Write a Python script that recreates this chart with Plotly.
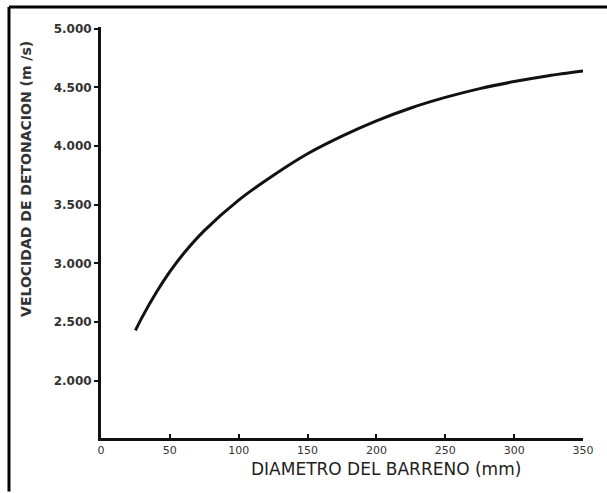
import plotly.graph_objects as go

diametro_mm = [25, 30, 40, 50, 60, 75, 100, 125, 150, 175, 200, 225, 250, 275, 300, 325, 350]
velocidad_ms = [2430, 2545, 2750, 2930, 3085, 3280, 3540, 3750, 3935, 4085, 4215, 4325, 4415, 4490, 4550, 4600, 4640]

x_ticks = [0, 50, 100, 150, 200, 250, 300, 350]
y_ticks = [2000, 2500, 3000, 3500, 4000, 4500, 5000]
y_tick_labels = ["2.000", "2.500", "3.000", "3.500", "4.000", "4.500", "5.000"]

fig = go.Figure()
fig.add_trace(go.Scatter(
    x=diametro_mm, y=velocidad_ms, mode="lines",
    line=dict(color="#111111", width=3, shape="spline", smoothing=0.8),
    showlegend=False, hoverinfo="skip",
))

fig.update_xaxes(
    range=[0, 350], tickvals=x_ticks, ticktext=[str(v) for v in x_ticks],
    showline=True, linecolor="#111111", linewidth=3, showgrid=False, zeroline=False,
    ticks="inside", ticklen=4, tickwidth=2, tickcolor="#111111",
    tickfont=dict(family="DejaVu Sans", size=11, color="#333333"),
)
fig.update_yaxes(
    range=[1513, 5015], tickvals=y_ticks, ticktext=y_tick_labels,
    showline=True, linecolor="#111111", linewidth=3, showgrid=False, zeroline=False,
    ticks="outside", ticklen=4, tickwidth=2, tickcolor="#111111",
    tickfont=dict(family="DejaVu Sans", size=12, color="#333333", weight="bold"),
)

fig.add_annotation(
    text="VELOCIDAD DE DETONACION (m /s)", xref="paper", yref="paper",
    x=-0.156, y=0.63, xanchor="center", yanchor="middle", textangle=-90, showarrow=False,
    font=dict(family="DejaVu Sans", size=14, color="#333333", weight="bold"),
)
fig.add_annotation(
    text="DIAMETRO DEL BARRENO (mm)", xref="paper", yref="paper",
    x=0.592, y=-0.075, xanchor="center", yanchor="middle", showarrow=False,
    font=dict(family="DejaVu Sans", size=17, color="#222222"),
)

# frame lines of the scanned figure (top and left)
fig.add_shape(type="line", xref="paper", yref="paper", x0=-0.1909, x1=1.06, y0=1.0487, y1=1.0487,
              line=dict(color="#000000", width=3))
fig.add_shape(type="line", xref="paper", yref="paper", x0=-0.1909, x1=-0.1909, y0=1.0487, y1=-0.13,
              line=dict(color="#000000", width=3))

fig.update_layout(
    width=607, height=493,
    margin=dict(l=101, r=24, t=27, b=55),
    paper_bgcolor="white", plot_bgcolor="white",
)
fig.write_html("out.html")
